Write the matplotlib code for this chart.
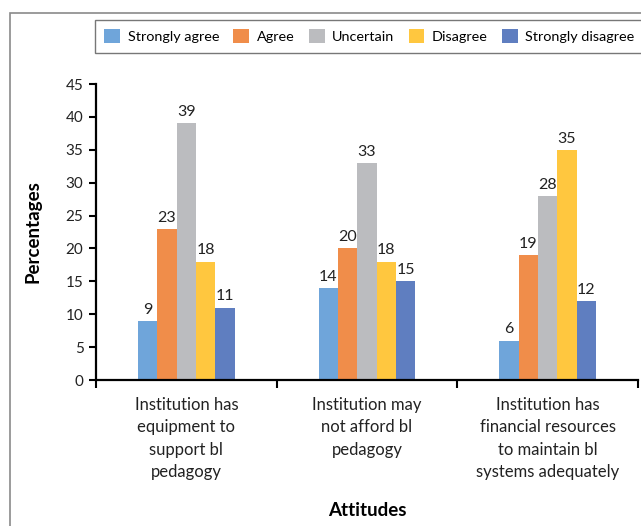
import numpy as np
import matplotlib.pyplot as plt
from matplotlib.patches import Rectangle

plt.rcParams['font.family'] = ['Lato', 'DejaVu Sans']

categories = ['Institution has\nequipment to\nsupport bl\npedagogy',
              'Institution may\nnot afford bl\npedagogy',
              'Institution has\nfinancial resources\nto maintain bl\nsystems adequately']
series = ['Strongly agree', 'Agree', 'Uncertain', 'Disagree', 'Strongly disagree']
strongly_agree = [9, 14, 6]
agree = [23, 20, 19]
uncertain = [39, 33, 28]
disagree = [18, 18, 35]
strongly_disagree = [11, 15, 12]
values = [strongly_agree, agree, uncertain, disagree, strongly_disagree]
colors = ['#6FA5DA', '#F08D4A', '#BBBCBF', '#FFC73F', '#5F7EC0']

fig = plt.figure(figsize=(6.41, 5.26), dpi=100)
ax = fig.add_axes([96/641, 1-380/526, 542/641, 296/526])

x = np.arange(len(categories))
w = 0.107
for i, (name, vals, c) in enumerate(zip(series, values, colors)):
    bars = ax.bar(x + (i - 2) * w, vals, w, color=c, label=name)
    ax.bar_label(bars, padding=3, fontsize=11.5, color='#222222')

ax.set_xlim(-0.5, 2.5)
ax.set_ylim(0, 45)
ax.set_yticks(range(0, 46, 5))
ax.set_xticks(x)
ax.set_xticklabels(categories, fontsize=12, linespacing=1.5, color='#222222')
ax.set_xticks([-0.5, 0.5, 1.5, 2.5], minor=True)
ax.tick_params(axis='x', which='major', length=0, pad=12)
ax.tick_params(axis='x', which='minor', length=6, width=1.5)
ax.tick_params(axis='y', length=5, width=1.5, labelsize=11, pad=4, labelcolor='#222222')
for s in ['top', 'right']:
    ax.spines[s].set_visible(False)
for s in ['left', 'bottom']:
    ax.spines[s].set_linewidth(1.6)

ax.set_ylabel('Percentages', fontsize=13.5, fontweight='bold')
ax.set_xlabel('Attitudes', fontsize=13.5, fontweight='bold', labelpad=16)
ax.yaxis.set_label_coords(-0.1, 0.5)

ax.legend(loc='upper left', bbox_to_anchor=(95/641, 1-20/526), bbox_transform=fig.transFigure,
          ncol=5, fontsize=10.4, frameon=True, fancybox=False, edgecolor='#555555',
          handlelength=1.1, handleheight=1.1, handletextpad=0.5, columnspacing=1.0,
          borderpad=0.65, borderaxespad=0)

fig.add_artist(Rectangle((10/641, -0.1), 1.2, 1 - 13/526 + 0.1, transform=fig.transFigure,
                         fill=False, edgecolor='#8A8A8A', linewidth=1.2))

plt.savefig('out.png', dpi=100)
